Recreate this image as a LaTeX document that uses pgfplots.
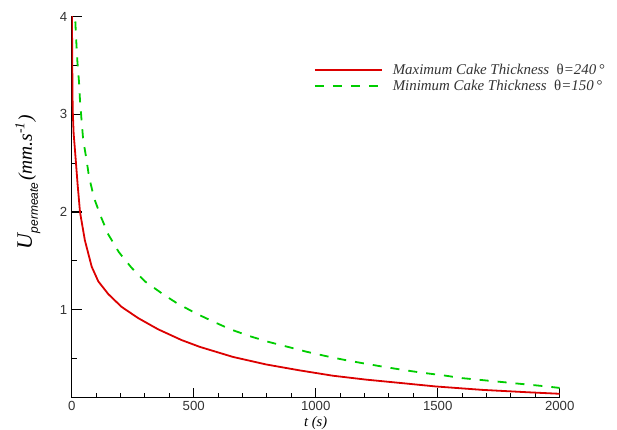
\documentclass[border=0pt]{standalone}
\usepackage{fontspec}
\setmainfont{Liberation Serif}
\setsansfont{Liberation Sans}
\usepackage{pgfplots}
\pgfplotsset{compat=1.18}
\definecolor{myred}{RGB}{220,0,0}
\definecolor{mygreen}{RGB}{0,205,0}
\begin{document}
\begin{tikzpicture}
\begin{axis}[
  scale only axis,
  width=488pt, height=381.2pt,
  xmin=0, xmax=2000, ymin=0.1, ymax=4,
  axis x line=bottom, axis y line=left,
  axis line style={-, line width=1.4pt, black},
  xtick={0,500,1000,1500,2000},
  ytick={1,2,3,4},
  minor xtick={100,200,300,400,600,700,800,900,1100,1200,1300,1400,1600,1700,1800,1900},
  minor ytick={0.5,1.5,2.5,3.5},
  tick align=inside,
  major tick length=10pt, minor tick length=5pt,
  major tick style={black, line width=1.4pt},
  minor tick style={black, line width=1pt},
  /pgf/number format/assume math mode=true,
  /pgf/number format/1000 sep={},
  ticklabel style={font=\sffamily\fontsize{13.2}{15}\selectfont, text=black!80},
  xticklabel style={yshift=0pt},
  yticklabel style={xshift=-1pt},
  xlabel={\itshape t (s)},
  xlabel style={font=\fontsize{14.5}{16}\selectfont, at={(axis description cs:0.5,0)}, anchor=north, yshift=-15pt},
  ylabel={{\fontsize{22}{22}\selectfont\itshape U}\raisebox{-6pt}{\fontsize{12}{12}\selectfont\sffamily\itshape permeate}\,{\fontsize{19.5}{19.5}\selectfont\itshape (mm.s\textsuperscript{-1})}},
  ylabel style={at={(axis description cs:-0.09,0.565)}, anchor=center},
  legend cell align=left,
  legend style={at={(axis description cs:0.49,0.883)}, anchor=north west, draw=none, fill=none,
    font=\fontsize{14.9}{16}\selectfont\itshape, row sep=1.5pt, nodes={inner sep=1pt}, text=black!80,
    /tikz/column 1/.style={column sep=9pt}},
  legend image code/.code={\draw[#1] (0pt,0pt) -- (67pt,0pt);},
]
\addplot[myred, line width=1.8pt] coordinates {
(0,4.6) (2,3.6) (4,3.05) (8,2.8) (13.5,2.63) (24,2.29) (34,2.0) (54,1.71) (82,1.44)
(109,1.29) (150,1.16) (204,1.03) (272,0.915) (354,0.80) (450,0.69) (525,0.62)
(661,0.517) (797,0.44) (933,0.38) (1070,0.325) (1206,0.285) (1342,0.252) (1492,0.215)
(1683,0.18) (1874,0.155) (2000,0.14)
};
\addlegendentry{Maximum Cake Thickness~~{\upshape θ}=240\,°}
\addplot[mygreen, line width=1.8pt, dash pattern=on 9pt off 9pt] coordinates {
(0,4.5) (8,4.2) (14,4.0) (18,3.78) (23,3.55) (30,3.33) (34,3.14) (41,2.92) (47,2.74)
(61,2.53) (71,2.36) (92,2.14) (120,1.95) (150,1.77) (193,1.59) (245,1.43) (300,1.29)
(368,1.17) (429,1.07) (511,0.96) (579,0.88) (650,0.80) (729,0.73) (808,0.67) (886,0.62)
(963,0.57) (1043,0.525) (1121,0.485) (1199,0.45) (1281,0.415) (1356,0.385) (1437,0.355)
(1519,0.33) (1601,0.30) (1683,0.28) (1765,0.26) (1846,0.24) (1928,0.22) (2000,0.20)
};
\addlegendentry{Minimum Cake Thickness~~{\upshape θ}=150\,°}
\end{axis}
\pgfresetboundingbox
\path (-71.7pt,-32.3pt) rectangle (545.3pt,397.7pt);
\end{tikzpicture}
\end{document}
